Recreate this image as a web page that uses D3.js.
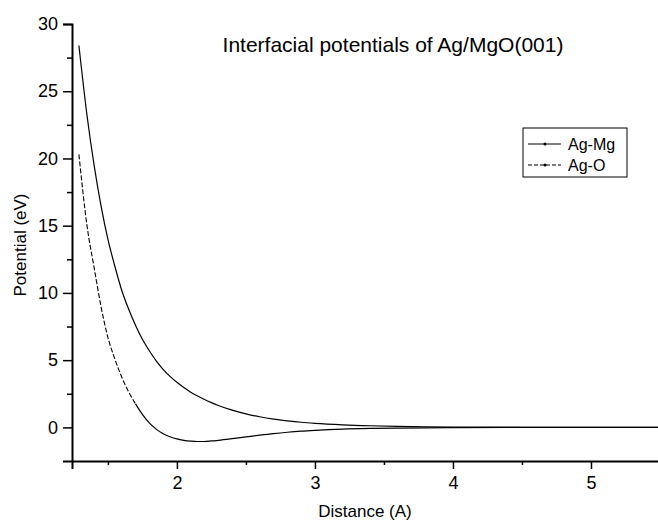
<!DOCTYPE html>
<html>
<head>
<meta charset="utf-8">
<script src="https://cdn.jsdelivr.net/npm/d3@7"></script>
<style>
  body { margin: 0; background: #fff; }
  svg { display: block; font-family: "Liberation Sans", Arial, sans-serif; }
</style>
</head>
<body>
<svg id="chart" width="658" height="523"></svg>
<script>
// values
var distance = [1.29, 1.35, 1.40, 1.45, 1.50, 1.55, 1.60, 1.65, 1.70, 1.75, 1.80, 1.85, 1.90, 1.95, 2.00, 2.05, 2.10, 2.15, 2.20, 2.25, 2.30, 2.40, 2.50, 2.60, 2.70, 2.80, 2.90, 3.00, 3.20, 3.40, 3.60, 3.80, 4.00, 4.50, 5.00, 5.50];
var agMg = [28.4, 23.1, 19.5, 16.5, 14.0, 12.0, 10.2, 8.8, 7.6, 6.55, 5.7, 4.95, 4.32, 3.79, 3.35, 2.96, 2.62, 2.33, 2.07, 1.84, 1.63, 1.28, 1.01, 0.79, 0.62, 0.49, 0.38, 0.3, 0.19, 0.12, 0.075, 0.047, 0.03, 0.01, 0.003, 0];
var agO = [20.3, 14.9, 11.9, 9.0, 6.7, 5.1, 3.75, 2.65, 1.75, 0.97, 0.33, -0.13, -0.47, -0.7, -0.86, -0.96, -1.02, -1.05, -1.05, -1.01, -0.96, -0.84, -0.71, -0.58, -0.46, -0.36, -0.28, -0.22, -0.13, -0.08, -0.05, -0.03, -0.02, -0.005, 0, 0];

var seriesNames = ['Ag-Mg', 'Ag-O'];
var xMajor = [2, 3, 4, 5];
var xMinor = [1.5, 2.5, 3.5, 4.5, 5.5];
var yMajor = [0, 5, 10, 15, 20, 25, 30];
var yMinor = [2.5, 7.5, 12.5, 17.5, 22.5, 27.5];
// Ag-O shows its dashes only on the steep part, further on it looks solid
var dashEnd = 1.7;

var svg = d3.select('#chart');

var x = d3.scaleLinear().domain([1.24, 5.5]).range([72, 660]);
var y = d3.scaleLinear().domain([-2.5, 30]).range([461, 24]);

// axes
var xAxis = svg.append('g')
    .attr('transform', 'translate(0,461)')
    .call(d3.axisBottom(x).tickValues(xMajor).tickSize(8).tickPadding(4).tickFormat(d3.format('d')));
svg.append('g')
    .attr('transform', 'translate(0,461)')
    .call(d3.axisBottom(x).tickValues(xMinor).tickSize(4).tickFormat(''))
    .select('.domain').remove();

var yAxis = svg.append('g')
    .attr('transform', 'translate(72,0)')
    .call(d3.axisLeft(y).tickValues(yMajor).tickSize(9).tickPadding(5).tickFormat(d3.format('d')));
svg.append('g')
    .attr('transform', 'translate(72,0)')
    .call(d3.axisLeft(y).tickValues(yMinor).tickSize(5).tickFormat(''))
    .select('.domain').remove();

svg.selectAll('.domain')
    .attr('stroke', '#000')
    .attr('stroke-width', 2);
svg.selectAll('.tick line')
    .attr('stroke', '#000')
    .attr('stroke-width', 1.5);
svg.selectAll('.tick text')
    .attr('fill', '#000')
    .style('font-size', '18px')
    .style('font-family', '"Liberation Sans", Arial, sans-serif');
xAxis.selectAll('.tick text').attr('dy', '0.9em');

// curves
var line = d3.line()
    .x(d => x(d[0]))
    .y(d => y(d[1]))
    .curve(d3.curveMonotoneX);

var mgPts = distance.map((d, i) => [d, agMg[i]]);
var oPts = distance.map((d, i) => [d, agO[i]]);

svg.append('path')
    .datum(mgPts)
    .attr('d', line)
    .attr('fill', 'none')
    .attr('stroke', '#000')
    .attr('stroke-width', 1.2);

svg.append('path')
    .datum(oPts.filter(d => d[0] <= dashEnd))
    .attr('d', line)
    .attr('fill', 'none')
    .attr('stroke', '#000')
    .attr('stroke-width', 1.1)
    .attr('stroke-dasharray', '5,2');
svg.append('path')
    .datum(oPts.filter(d => d[0] >= dashEnd))
    .attr('d', line)
    .attr('fill', 'none')
    .attr('stroke', '#000')
    .attr('stroke-width', 1.2);

// title and axis labels
svg.append('text')
    .attr('x', 393)
    .attr('y', 52)
    .attr('text-anchor', 'middle')
    .style('font-size', '21px')
    .text('Interfacial potentials of Ag/MgO(001)');

svg.append('text')
    .attr('x', 365)
    .attr('y', 517)
    .attr('text-anchor', 'middle')
    .style('font-size', '17px')
    .text('Distance (A)');

svg.append('text')
    .attr('transform', 'translate(26,245) rotate(-90)')
    .attr('text-anchor', 'middle')
    .style('font-size', '17px')
    .text('Potential (eV)');

// legend
var legend = svg.append('g').attr('transform', 'translate(523,128)');
legend.append('rect')
    .attr('width', 104)
    .attr('height', 49)
    .attr('fill', '#fff')
    .attr('stroke', '#000')
    .attr('stroke-width', 1);
var items = legend.selectAll('.legend-item')
    .data(seriesNames)
    .enter()
    .append('g')
    .attr('transform', (d, i) => `translate(0,${16 + i * 21})`);
items.append('line')
    .attr('x1', 5)
    .attr('x2', 38)
    .attr('stroke', '#000')
    .attr('stroke-width', 1)
    .attr('stroke-dasharray', (d, i) => i === 0 ? null : '4,2');
items.append('circle')
    .attr('cx', 22)
    .attr('r', 1.5)
    .attr('fill', '#000');
items.append('text')
    .attr('x', 45)
    .attr('dy', '0.35em')
    .style('font-size', '16px')
    .text(d => d);
</script>
</body>
</html>
